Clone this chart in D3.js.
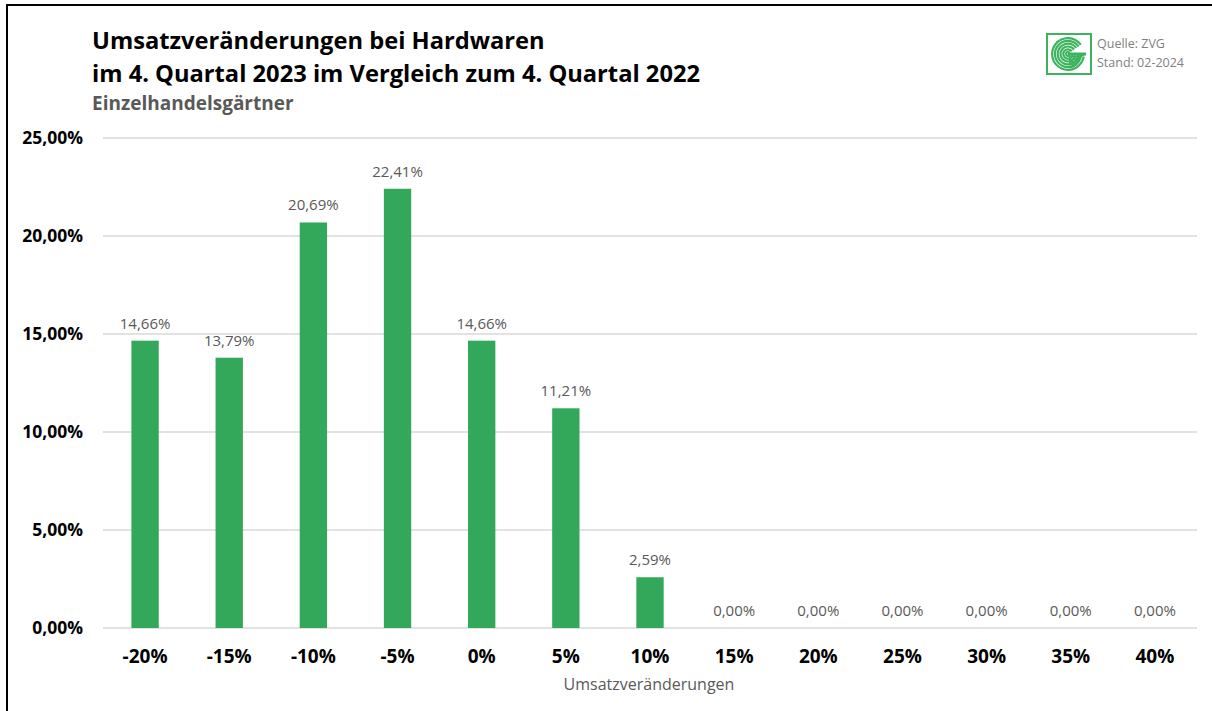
<!DOCTYPE html>
<html><head><meta charset="utf-8">
<script src="https://cdn.jsdelivr.net/npm/d3@7"></script>
<style>
html,body{margin:0;padding:0;background:#fff;}
svg{display:block;font-family:"Open Sans","Noto Sans",sans-serif;}
</style></head>
<body>
<svg id="chart" width="1212" height="711"></svg>
<script>
const categories = ["-20%","-15%","-10%","-5%","0%","5%","10%","15%","20%","25%","30%","35%","40%"];
const values = [14.66,13.79,20.69,22.41,14.66,11.21,2.59,0,0,0,0,0,0];
const yTicks = [0,5,10,15,20,25];
const titleLines = ["Umsatzveränderungen bei Hardwaren","im 4. Quartal 2023 im Vergleich zum 4. Quartal 2022"];
const subtitle = "Einzelhandelsgärtner";
const sourceLines = ["Quelle: ZVG","Stand: 02-2024"];
const xAxisTitle = "Umsatzveränderungen";

const svg = d3.select("#chart");
const fmt = v => d3.format(".2f")(v).replace(".", ",") + "%";

// frame
svg.append("line").attr("x1",7).attr("x2",1212).attr("y1",5).attr("y2",5).attr("stroke","#000").attr("stroke-width",2);
svg.append("line").attr("x1",7).attr("x2",7).attr("y1",4).attr("y2",711).attr("stroke","#000").attr("stroke-width",2);

const x = d3.scaleBand().domain(categories).range([103,1197]).paddingInner(0.675).paddingOuter(0.3375);
const y = d3.scaleLinear().domain([0,25]).range([628,138]);

// grid
svg.append("g").selectAll("line").data(yTicks).join("line")
  .attr("x1",103).attr("x2",1197).attr("y1",d=>y(d)).attr("y2",d=>y(d))
  .attr("stroke","#d9d9d9").attr("stroke-width",1.3);

// y labels
svg.append("g").selectAll("text").data(yTicks).join("text")
  .attr("x",83).attr("y",d=>y(d)+6).attr("text-anchor","end")
  .attr("font-size",17.5).attr("font-weight","bold").attr("fill","#000")
  .text(d=>fmt(d));

// bars
svg.append("g").selectAll("rect").data(values).join("rect")
  .attr("x",(d,i)=>x(categories[i])).attr("width",x.bandwidth())
  .attr("y",d=>y(d)).attr("height",d=>y(0)-y(d)).attr("fill","#34a85a");

// data labels
svg.append("g").selectAll("text").data(values).join("text")
  .attr("x",(d,i)=>x(categories[i])+x.bandwidth()/2).attr("y",d=>y(d)-12)
  .attr("text-anchor","middle").attr("font-size",15).attr("fill","#595959")
  .text(d=>fmt(d));

// x labels
svg.append("g").selectAll("text").data(categories).join("text")
  .attr("x",d=>x(d)+x.bandwidth()/2).attr("y",663).attr("text-anchor","middle")
  .attr("font-size",19).attr("font-weight","bold").attr("fill","#000").text(d=>d);

svg.append("text").attr("x",649).attr("y",690).attr("text-anchor","middle")
  .attr("font-size",16).attr("fill","#595959").text(xAxisTitle);

// titles
svg.append("g").selectAll("text").data(titleLines).join("text")
  .attr("x",92).attr("y",(d,i)=>49+i*33).attr("font-size",23.7).attr("font-weight","bold").attr("fill","#000")
  .text(d=>d);
svg.append("text").attr("x",92).attr("y",110).attr("font-size",19).attr("font-weight","bold").attr("fill","#595959").text(subtitle);

// source
svg.append("g").selectAll("text").data(sourceLines).join("text")
  .attr("x",1097).attr("y",(d,i)=>48+i*19).attr("font-size",12.5).attr("fill","#7f7f7f").text(d=>d);

// logo
const lg = svg.append("g").attr("transform","translate(1046,33)");
lg.append("rect").attr("x",1).attr("y",1).attr("width",44).attr("height",40).attr("fill","#fff").attr("stroke","#3cb35c").attr("stroke-width",2);
const cx=22, cy=21;
[17,14.2,11.4,8.6,5.8,3].forEach(r=>{
  lg.append("path").attr("d", d3.arc()({innerRadius:Math.max(0,r-2.2),outerRadius:r,startAngle:0.55*Math.PI,endAngle:2.3*Math.PI}))
    .attr("transform",`translate(${cx},${cy})`).attr("fill","#3cb35c");
});
lg.append("rect").attr("x",cx).attr("y",cy-1.5).attr("width",18).attr("height",3).attr("fill","#3cb35c");
[0,1,2,3,4].forEach(k=>{
  lg.append("path").attr("d",`M${cx+1} ${cy+3+k*2.6} Q ${cx+11} ${cy+3+k*2.6} ${cx+18-k*2} ${cy}`).attr("fill","none").attr("stroke","#3cb35c").attr("stroke-width",1.5);
});
</script>
</body></html>
